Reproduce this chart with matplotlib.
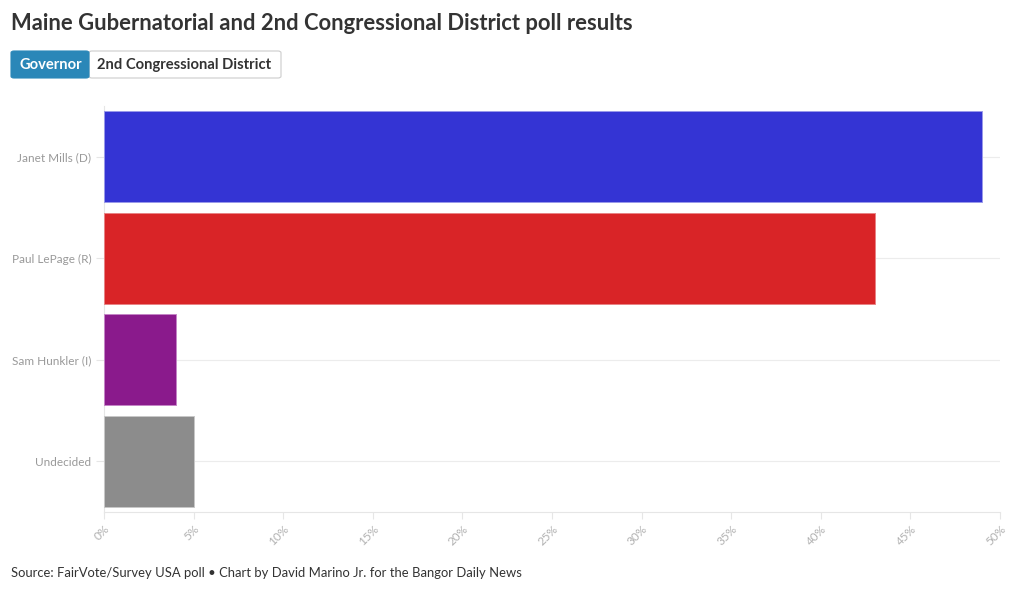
import matplotlib.pyplot as plt
from matplotlib.patches import FancyBboxPatch

candidates = ["Janet Mills (D)", "Paul LePage (R)", "Sam Hunkler (I)", "Undecided"]
support = [49, 43, 4, 5]
bar_colors = ["#3434d4", "#d92427", "#8a1a8c", "#8c8c8c"]
edge_colors = ["#9a9aea", "#e88385", "#c585c7", "#c8c8c8"]
xticks = [0, 5, 10, 15, 20, 25, 30, 35, 40, 45, 50]

plt.rcParams['font.family'] = ['Lato', 'DejaVu Sans']

W, H = 1020, 593
fig = plt.figure(figsize=(W / 100, H / 100), dpi=100)
ax = fig.add_axes([104 / W, 1 - 512 / H, (1000 - 104) / W, (512 - 106) / H])

ypos = list(range(len(candidates)))
ax.barh(ypos, support, height=0.9, color=bar_colors, edgecolor=edge_colors,
        linewidth=0.7, zorder=3)

ax.set_ylim(3.5, -0.5)
ax.set_xlim(0, 50)
ax.set_yticks(ypos)
ax.set_yticklabels(candidates, fontsize=8.5, color="#999999")
ax.set_xticks(xticks)
ax.set_xticklabels([f"{t}%" for t in xticks], rotation=45, ha="right",
                   rotation_mode="anchor", fontsize=8.5, color="#b0b0b0")
ax.tick_params(axis="y", length=6, color="#e6e6e6", pad=3)
ax.tick_params(axis="x", length=5, color="#e6e6e6", pad=3)
ax.grid(axis="y", color="#ececec", linewidth=0.8, zorder=0)
for s in ["top", "right"]:
    ax.spines[s].set_visible(False)
ax.spines["left"].set_color("#e6e6e6")
ax.spines["bottom"].set_color("#e6e6e6")

fig.text(11 / W, 1 - 24 / H, "Maine Gubernatorial and 2nd Congressional District poll results",
         fontsize=15.8, fontweight="bold", color="#333333", va="center", ha="left")

# tab buttons
fig.patches.append(FancyBboxPatch((89 / W, 1 - 78 / H), (281 - 89) / W, 27 / H,
                                  boxstyle="round,pad=0,rounding_size=0.003",
                                  transform=fig.transFigure, facecolor="white",
                                  edgecolor="#cccccc", linewidth=0.8))
fig.patches.append(FancyBboxPatch((11 / W, 1 - 78 / H), (89 - 11) / W, 27 / H,
                                  boxstyle="round,pad=0,rounding_size=0.003",
                                  transform=fig.transFigure, facecolor="#2a87b8",
                                  edgecolor="#2a87b8", linewidth=0.8))
fig.text(50.5 / W, 1 - 65 / H, "Governor", fontsize=10.6, fontweight="bold",
         color="white", ha="center", va="center")
fig.text(184.5 / W, 1 - 65 / H, "2nd Congressional District", fontsize=10.6,
         fontweight="bold", color="#333333", ha="center", va="center")

fig.text(11 / W, 1 - 573 / H,
         "Source: FairVote/Survey USA poll \u2022 Chart by David Marino Jr. for the Bangor Daily News",
         fontsize=9.35, color="#333333", ha="left", va="center")

fig.savefig("out.png", dpi=100)
